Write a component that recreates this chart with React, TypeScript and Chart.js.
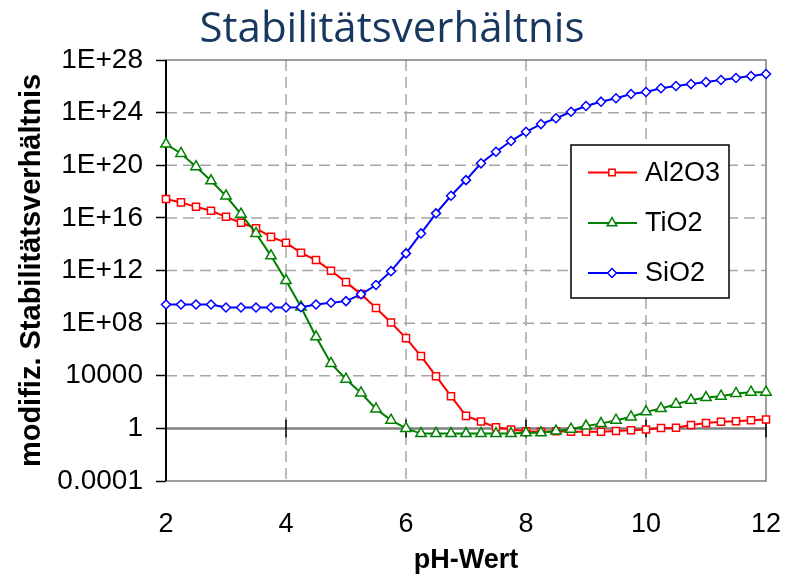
import React, { useEffect, useRef } from 'react';
import { Chart, registerables } from 'chart.js';

Chart.register(...registerables);

const titleText = 'Stabilitätsverhältnis';
const xTitle = 'pH-Wert';
const yTitle = 'modifiz. Stabilitätsverhältnis';
const seriesNames = ['Al2O3', 'TiO2', 'SiO2'];

const pH = [
  2, 2.25, 2.5, 2.75, 3, 3.25, 3.5, 3.75, 4, 4.25, 4.5, 4.75, 5, 5.25, 5.5, 5.75,
  6, 6.25, 6.5, 6.75, 7, 7.25, 7.5, 7.75, 8, 8.25, 8.5, 8.75, 9, 9.25, 9.5, 9.75,
  10, 10.25, 10.5, 10.75, 11, 11.25, 11.5, 11.75, 12,
];

const al2o3 = [
  2.7e17, 1.5e17, 6.9e16, 3.5e16, 1.2e16, 4.3e15, 1.6e15, 3.6e14, 1.3e14, 2.2e13,
  6.2e12, 9.5e11, 1.3e11, 1.6e10, 1.4e9, 1.1e8, 7.2e6, 3.1e5, 9.3e3, 280,
  8.9, 3.3, 1.2, 0.83, 0.6, 0.56, 0.6, 0.56, 0.56, 0.56,
  0.63, 0.72, 0.83, 1.07, 1.12, 1.8, 2.6, 3.2, 3.5, 4.2, 4.8,
];

const tio2 = [
  4.1e21, 7.9e20, 7.8e19, 6.6e18, 4.6e17, 1.9e16, 6.6e14, 1.3e13, 1.7e11, 1.7e9,
  9.1e6, 8.7e4, 5.5e3, 490, 30, 4.2, 1, 0.4, 0.4, 0.4,
  0.4, 0.4, 0.4, 0.4, 0.46, 0.46, 0.62, 0.87, 1.5, 2.3,
  4.2, 7.4, 18, 32, 69, 140, 220, 280, 450, 560, 560,
];

const sio2 = [
  2.6e9, 2.6e9, 2.6e9, 2.6e9, 1.55e9, 1.55e9, 1.55e9, 1.55e9, 1.55e9, 1.6e9,
  2.6e9, 3.5e9, 4.7e9, 1.55e10, 7.9e10, 8.9e11, 2.0e13, 6.6e14, 2.2e16, 4.8e17,
  7.4e18, 1.4e20, 1.07e21, 6.9e21, 3.5e22, 1.35e23, 3.7e23, 1.17e24, 3.2e24, 6.8e24,
  1.23e25, 2.6e25, 3.7e25, 7.1e25, 1.05e26, 1.48e26, 2.1e26, 3.0e26, 4.3e26, 6.0e26, 8.7e26,
];

const xTicks = [2, 4, 6, 8, 10, 12];
const yTickValues = [1e-4, 1, 1e4, 1e8, 1e12, 1e16, 1e20, 1e24, 1e28];
const yTickLabels = ['0.0001', '1', '10000', '1E+08', '1E+12', '1E+16', '1E+20', '1E+24', '1E+28'];

const colors = ['#FF0000', '#008000', '#0000FF'];
const styles = ['rect', 'triangle', 'rectRot'];

const FONT = '"Liberation Sans", Arial, sans-serif';

function drawMarker(ctx: CanvasRenderingContext2D, style: string, x: number, y: number, r: number) {
  ctx.beginPath();
  if (style === 'rect') {
    const s = r * Math.SQRT1_2;
    ctx.rect(x - s, y - s, 2 * s, 2 * s);
  } else if (style === 'triangle') {
    ctx.moveTo(x, y - r);
    ctx.lineTo(x + r * Math.sin(Math.PI * 2 / 3), y - r * Math.cos(Math.PI * 2 / 3));
    ctx.lineTo(x - r * Math.sin(Math.PI * 2 / 3), y - r * Math.cos(Math.PI * 2 / 3));
    ctx.closePath();
  } else {
    ctx.moveTo(x - r, y);
    ctx.lineTo(x, y - r);
    ctx.lineTo(x + r, y);
    ctx.lineTo(x, y + r);
    ctx.closePath();
  }
  ctx.fill();
  ctx.stroke();
}

const decor = {
  id: 'decor',
  beforeDatasetsDraw(chart: any) {
    const { ctx, chartArea: a, scales } = chart;
    const x = scales.x;
    const y = scales.y;
    const line = (x1: number, y1: number, x2: number, y2: number) => {
      ctx.beginPath();
      ctx.moveTo(x1, y1);
      ctx.lineTo(x2, y2);
      ctx.stroke();
    };
    ctx.save();
    ctx.strokeStyle = '#A6A6A6';
    ctx.lineWidth = 1.5;
    ctx.setLineDash([11, 6]);
    xTicks.slice(1, -1).forEach((v) => {
      const px = x.getPixelForValue(v);
      line(px, a.top, px, a.bottom);
    });
    yTickValues.slice(1, -1).forEach((v) => {
      if (v === 1) return;
      const py = y.getPixelForValue(v);
      line(a.left, py, a.right, py);
    });
    ctx.setLineDash([]);
    ctx.strokeStyle = '#7F7F7F';
    ctx.lineWidth = 1.5;
    ctx.strokeRect(a.left, a.top, a.right - a.left, a.bottom - a.top);
    const y1 = y.getPixelForValue(1);
    ctx.strokeStyle = '#808080';
    ctx.lineWidth = 2.5;
    line(a.left, y1, a.right, y1);
    ctx.strokeStyle = '#000';
    ctx.lineWidth = 1.5;
    xTicks.forEach((v) => {
      const px = x.getPixelForValue(v);
      line(px, y1 - 9, px, y1 + 9);
    });
    ctx.lineWidth = 2;
    line(a.left, a.top, a.left, a.bottom);
    ctx.restore();
  },
  afterDraw(chart: any) {
    const { ctx } = chart;
    ctx.save();
    ctx.fillStyle = '#17375E';
    ctx.font = '42px "Open Sans", "DejaVu Sans", sans-serif';
    ctx.textAlign = 'center';
    ctx.textBaseline = 'alphabetic';
    ctx.fillText(titleText, 392, 42);

    // legend
    const bx = 571, by = 145, bw = 158, bh = 153;
    ctx.fillStyle = '#FFFFFF';
    ctx.fillRect(bx, by, bw, bh);
    ctx.strokeStyle = '#000';
    ctx.lineWidth = 1.5;
    ctx.strokeRect(bx, by, bw, bh);
    const rows = [172.5, 223, 273];
    seriesNames.forEach((name, i) => {
      const ry = rows[i];
      ctx.strokeStyle = colors[i];
      ctx.lineWidth = 2;
      ctx.beginPath();
      ctx.moveTo(588, ry);
      ctx.lineTo(637, ry);
      ctx.stroke();
      ctx.fillStyle = '#FFFFFF';
      ctx.lineWidth = 1.5;
      drawMarker(ctx, styles[i], 612, ry, i === 0 ? 4.5 : i === 1 ? 5.5 : 4.5);
      ctx.fillStyle = '#000';
      ctx.font = `27px ${FONT}`;
      ctx.textAlign = 'left';
      ctx.textBaseline = 'middle';
      ctx.fillText(name, 645, ry + 1);
    });
    ctx.restore();
  },
};

export default function App() {
  const ref = useRef<HTMLCanvasElement | null>(null);

  useEffect(() => {
    document.body.style.margin = '0';
    const canvas = ref.current;
    if (!canvas) return;
    const seriesValues = [al2o3, tio2, sio2];
    const orders = [2, 1, 0];
    const radii = [5, 6, 4.5];
    const chart = new Chart(canvas, {
      type: 'line',
      data: {
        datasets: seriesNames.map((name, i) => ({
          label: name,
          data: pH.map((p, j) => ({ x: p, y: seriesValues[i][j] })),
          borderColor: colors[i],
          backgroundColor: '#FFFFFF',
          borderWidth: 2,
          pointStyle: styles[i] as any,
          pointRadius: radii[i],
          pointBorderWidth: 1.5,
          pointBorderColor: colors[i],
          pointBackgroundColor: '#FFFFFF',
          tension: 0,
          clip: false as any,
          order: orders[i],
        })),
      },
      options: {
        responsive: false,
        animation: false,
        layout: { padding: { left: 0, top: 60, right: 31, bottom: 0 } },
        plugins: {
          legend: { display: false },
          title: { display: false },
          tooltip: { enabled: false },
        },
        scales: {
          x: {
            type: 'linear',
            min: 2,
            max: 12,
            afterBuildTicks: (s: any) => {
              s.ticks = xTicks.map((v) => ({ value: v }));
            },
            afterFit: (s: any) => {
              s.height = 102;
              s.paddingLeft = 0;
              s.paddingRight = 0;
            },
            grid: { display: false, drawTicks: false },
            border: { display: false },
            ticks: {
              font: { family: FONT, size: 27 },
              color: '#000',
              padding: 27,
              maxRotation: 0,
              autoSkip: false,
            },
            title: {
              display: true,
              text: xTitle,
              font: { family: FONT, size: 27, weight: 'bold' },
              color: '#000',
              padding: { top: 0, bottom: 6 },
            },
          },
          y: {
            type: 'logarithmic',
            min: 1e-4,
            max: 1e28,
            afterBuildTicks: (s: any) => {
              s.ticks = yTickValues.map((v) => ({ value: v }));
            },
            afterFit: (s: any) => {
              s.width = 166;
              s.paddingTop = 0;
              s.paddingBottom = 0;
            },
            grid: {
              drawOnChartArea: false,
              drawTicks: true,
              tickLength: 10,
              tickColor: '#000',
              tickWidth: 1.5,
            },
            border: { display: false },
            ticks: {
              font: { family: FONT, size: 28 },
              color: '#000',
              padding: 13,
              autoSkip: false,
              callback: (_v: any, i: number) => yTickLabels[i],
            },
            title: {
              display: true,
              text: yTitle,
              font: { family: FONT, size: 29, weight: 'bold' },
              color: '#000',
              padding: { top: 15, bottom: 0 },
            },
          },
        },
      },
      plugins: [decor],
    });
    return () => chart.destroy();
  }, []);

  return (
    <div style={{ width: 797, height: 583, overflow: 'hidden' }}>
      <canvas ref={ref} width={797} height={583} style={{ display: 'block' }} />
    </div>
  );
}
